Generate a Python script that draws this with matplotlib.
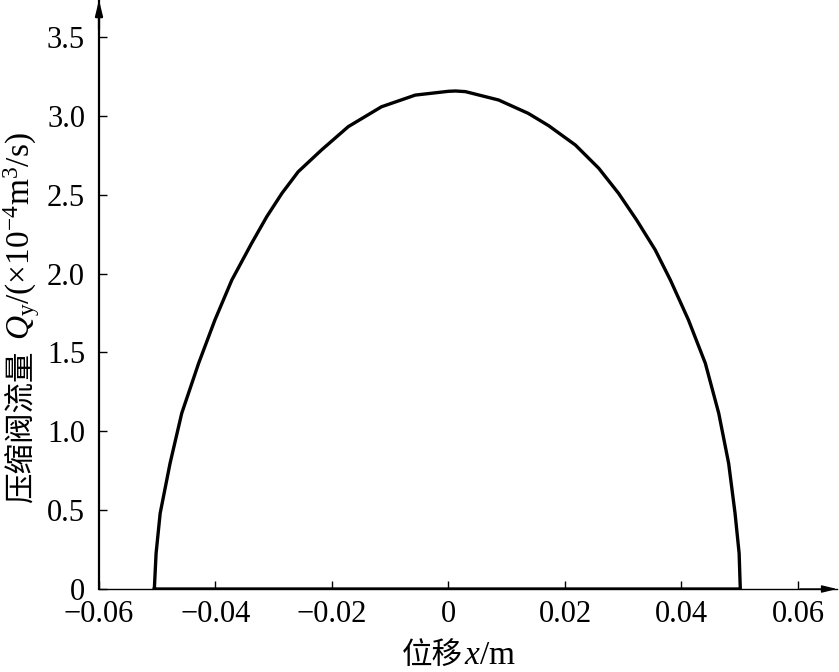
import matplotlib
matplotlib.use("Agg")
import matplotlib.pyplot as plt

# flow curve of the compression valve (closed along y=0)
disp = [-0.0505, -0.0502, -0.0495, -0.0478, -0.0458, -0.0429, -0.0401, -0.0372,
        -0.0338, -0.0312, -0.0286, -0.0258, -0.0218, -0.0172, -0.0115, -0.0057,
        0.0000, 0.0012, 0.0029, 0.0086, 0.0137, 0.0172, 0.0218, 0.0258,
        0.0292, 0.0323, 0.0355, 0.0381, 0.0412, 0.0441, 0.0464, 0.0481,
        0.0492, 0.0499, 0.0501, -0.0505]
flow = [0.0, 0.226, 0.480, 0.797, 1.114, 1.431, 1.706, 1.959,
        2.192, 2.361, 2.509, 2.646, 2.784, 2.932, 3.058, 3.132,
        3.156, 3.158, 3.154, 3.101, 3.016, 2.938, 2.815, 2.668,
        2.509, 2.340, 2.150, 1.959, 1.706, 1.431, 1.114, 0.797,
        0.480, 0.226, 0.0, 0.0]

xticks = [-0.06, -0.04, -0.02, 0, 0.02, 0.04, 0.06]
xticklabels = ["\u22120.06", "\u22120.04", "\u22120.02", "0", "0.02", "0.04", "0.06"]
yticks = [0, 0.5, 1.0, 1.5, 2.0, 2.5, 3.0, 3.5]
yticklabels = ["0", "0.5", "1.0", "1.5", "2.0", "2.5", "3.0", "3.5"]

plt.rcParams['font.family'] = ['Liberation Serif', 'Noto Sans CJK SC']
plt.rcParams['mathtext.fontset'] = 'custom'
plt.rcParams['mathtext.rm'] = 'Liberation Serif'
plt.rcParams['mathtext.it'] = 'Liberation Serif:italic'

fig = plt.figure(figsize=(8.39, 6.72), dpi=100)
ax = fig.add_axes([0.118, 0.1235, 0.8796, 0.8765])

ax.plot(disp, flow, color='black', lw=2.4, solid_joinstyle='round')

ax.set_xlim(-0.06, 0.0667)
ax.set_ylim(0, 3.735)
ax.set_xticks(xticks)
ax.set_xticklabels(xticklabels)
ax.set_yticks(yticks)
ax.set_yticklabels(yticklabels)
ax.tick_params(direction='in', length=6, width=1, labelsize=22, pad=8)
ax.tick_params(axis='y', pad=10)

for side in ['top', 'right']:
    ax.spines[side].set_visible(False)
ax.spines['left'].set_linewidth(1.6)
ax.spines['bottom'].set_linewidth(1.0)

# arrow heads on the axes
ax.annotate('', xy=(0, 1.0), xytext=(0, 0.95), xycoords='axes fraction',
            arrowprops=dict(arrowstyle='-|>,head_length=0.9,head_width=0.22',
                            color='black', lw=1.6, shrinkA=0, shrinkB=0))
ax.annotate('', xy=(1.0, 0), xytext=(0.95, 0), xycoords='axes fraction',
            arrowprops=dict(arrowstyle='-|>,head_length=0.9,head_width=0.22',
                            color='black', lw=1.0, shrinkA=0, shrinkB=0))

# axis labels: Chinese part and math part drawn separately so the CJK font is used
fig.text(0.5518, 0.012, '位移', ha='right', va='baseline', fontsize=22)
fig.text(0.5535, 0.012, '$x$/m', ha='left', va='baseline', fontsize=24)

fig.text(0.036, 0.479, '压缩阀流量', rotation=90, rotation_mode='anchor',
         ha='right', va='baseline', fontsize=22)
fig.text(0.036, 0.494, '$Q_{\\rm y}$/(×10$^{-4}$m$^{3}$/s)', rotation=90,
         rotation_mode='anchor', ha='left', va='baseline', fontsize=24)

fig.savefig('out.png', dpi=100)
